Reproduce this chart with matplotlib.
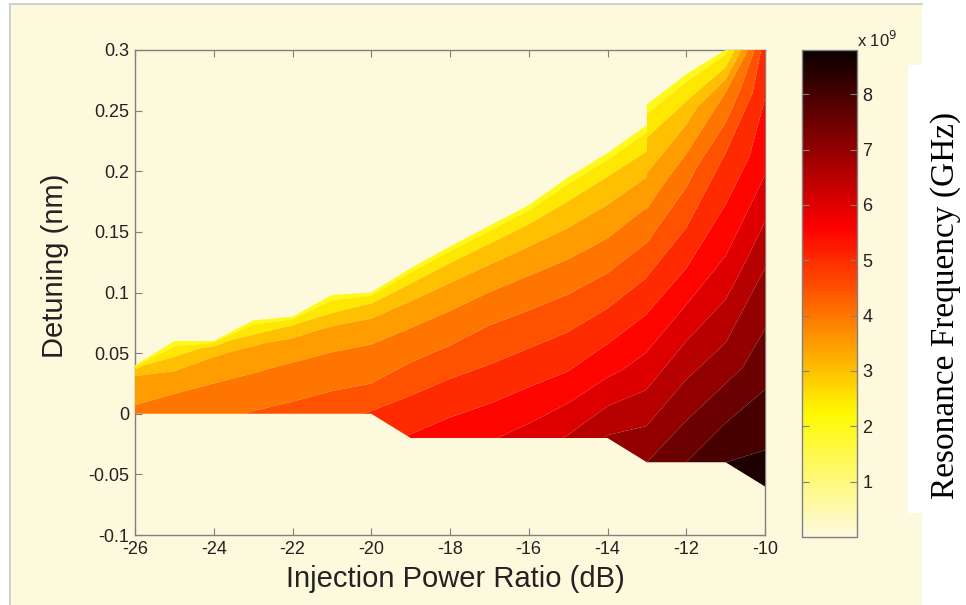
import numpy as np
import matplotlib
matplotlib.use("Agg")
import matplotlib.pyplot as plt
from matplotlib.colors import ListedColormap, Normalize
from matplotlib.patches import Rectangle
from matplotlib.lines import Line2D
import matplotlib.cm as cm

# ---------------- data ----------------
# injection power ratio columns (dB); -13 is listed twice because the upper locking edge steps there
injection_db = [-26, -25, -24, -23, -22, -21, -20, -19, -18, -17, -16, -15, -14, -13, -13, -12, -11, -10]
# lower and upper edge of the locking region (nm) for each column
detuning_low = [0, 0, 0, 0, 0, 0, 0, -0.02, -0.02, -0.02, -0.02, -0.02, -0.02, -0.04, -0.04, -0.04, -0.04, -0.06]
detuning_high = [0.04, 0.06, 0.06, 0.077, 0.08, 0.098, 0.10, 0.12, 0.138, 0.155, 0.172, 0.195, 0.215, 0.238, 0.255, 0.28, 0.30, 0.30]
# sample rows: fraction of the way from the lower edge to the upper edge
edge_fraction = [0.0, 0.25, 0.5, 0.75, 0.9, 1.0]
# resonance frequency (GHz) on each sample row
freq_f000 = [4.15, 4.25, 4.4, 4.53, 4.65, 4.85, 5.05, 5.55, 5.75, 5.95, 6.2, 6.55, 7.05, 7.5, 7.5, 8.0, 8.5, 8.8]
freq_f025 = [3.94, 4.03, 4.2, 4.27, 4.35, 4.39, 4.5, 5.0, 5.17, 5.25, 5.4, 5.52, 5.82, 6.34, 6.28, 6.83, 7.19, 7.9]
freq_f050 = [3.74, 3.71, 3.9, 3.9, 4.05, 4.04, 4.15, 4.36, 4.45, 4.6, 4.66, 4.69, 4.82, 5.23, 5.1, 5.5, 6.0, 7.0]
freq_f075 = [3.54, 3.1, 3.57, 3.45, 3.6, 3.46, 3.63, 3.75, 3.76, 3.8, 3.82, 3.76, 3.8, 4.03, 3.78, 4.3, 5.0, 5.83]
freq_f090 = [3.1, 2.6, 3.2, 2.75, 3.05, 2.74, 3.05, 3.07, 3.1, 3.12, 3.15, 3.06, 3.14, 3.2, 3.05, 3.3, 3.98, 5.47]
freq_f100 = [2.3, 2.2, 2.3, 2.3, 2.3, 2.3, 2.3, 2.3, 2.3, 2.3, 2.3, 2.3, 2.3, 2.3, 2.3, 2.3, 2.3, 5.3]

x_ticks = [-26, -24, -22, -20, -18, -16, -14, -12, -10]
y_ticks = [-0.1, -0.05, 0, 0.05, 0.1, 0.15, 0.2, 0.25, 0.3]
y_tick_labels = ["-0.1", "-0.05", "0", "0.05", "0.1", "0.15", "0.2", "0.25", "0.3"]
cbar_ticks_ghz = [1, 2, 3, 4, 5, 6, 7, 8]
level_step_ghz = 0.5

# ---------------- style ----------------
W, H = 966, 605
cream = "#fdf9dd"
axis_gray = "#808080"
text_col = "#222222"
sans = ["Liberation Sans", "DejaVu Sans"]

base = plt.get_cmap("hot_r")(np.linspace(0, 1, 256))
base[:, 0] *= 0.995
base[:, 1] *= 0.978
base[:, 2] *= 0.87
cmap = ListedColormap(base)

fig = plt.figure(figsize=(W / 100, H / 100), dpi=100, facecolor="white")

# cream page area with thin grey top/left border
fig.patches.append(Rectangle((10 / W, 0), (922 - 10) / W, (H - 4) / H, transform=fig.transFigure,
                             facecolor=cream, edgecolor="none", zorder=-10))
fig.lines.append(Line2D([10 / W, 922 / W], [1 - 4 / H, 1 - 4 / H], transform=fig.transFigure,
                        color="#c8c8c8", lw=1.2, zorder=-9))
fig.lines.append(Line2D([10 / W, 10 / W], [0, 1 - 4 / H], transform=fig.transFigure,
                        color="#c8c8c8", lw=1.2, zorder=-9))
# white box holding the colour-bar title
fig.patches.append(Rectangle((908 / W, 1 - 513 / H), (W - 908) / W, (513 - 65) / H,
                             transform=fig.transFigure, facecolor="white", edgecolor="none", zorder=-8))

ax = fig.add_axes([135 / W, 1 - 535 / H, (765 - 135) / W, (535 - 50) / H])
ax.set_facecolor(cream)

frac = np.array(edge_fraction)[:, None]
X = np.tile(np.array(injection_db, dtype=float), (len(edge_fraction), 1))
lo = np.array(detuning_low)[None, :]
hi = np.array(detuning_high)[None, :]
Y = lo + frac * (hi - lo)
Z = np.array([freq_f000, freq_f025, freq_f050, freq_f075, freq_f090, freq_f100]) * 1e9

zmax = Z.max()
levels = np.arange(0, zmax + level_step_ghz * 1e9, level_step_ghz * 1e9)
norm = Normalize(0, zmax)
band_colors = [cmap(norm(l)) for l in levels[:-1]]
ax.contourf(X, Y, Z, levels=levels, colors=band_colors, antialiased=True, zorder=1)

ax.set_xlim(-26, -10)
ax.set_ylim(-0.1, 0.3)
ax.set_xticks(x_ticks)
ax.set_xticklabels([str(t) for t in x_ticks])
ax.set_yticks(y_ticks)
ax.set_yticklabels(y_tick_labels)
ax.set_axisbelow(True)
for s in ax.spines.values():
    s.set_color(axis_gray)
    s.set_linewidth(1.0)
    s.set_zorder(0.5)
ax.tick_params(direction="in", length=5, width=0.8, color=axis_gray, top=True, right=True,
               labelsize=13, labelcolor=text_col, pad=4)
for lab in ax.get_xticklabels() + ax.get_yticklabels():
    lab.set_family(sans)

ax.set_xlabel("Injection Power Ratio (dB)", fontsize=21, family=sans, color=text_col)
ax.xaxis.set_label_coords(0.508, -0.062)
ax.set_ylabel("Detuning (nm)", fontsize=21, family=sans, color=text_col)
ax.yaxis.set_label_coords(-0.105, 0.555)

# colour bar
cax = fig.add_axes([802 / W, 1 - 537 / H, (857 - 802) / W, (537 - 50) / H])
sm = cm.ScalarMappable(norm=norm, cmap=cmap)
cb = fig.colorbar(sm, cax=cax)
cb.outline.set_edgecolor(axis_gray)
cb.outline.set_linewidth(1.0)
cb.set_ticks([t * 1e9 for t in cbar_ticks_ghz])
cb.set_ticklabels([str(t) for t in cbar_ticks_ghz])
cax.tick_params(direction="in", length=5, width=0.8, color=axis_gray, left=True, right=True,
                labelsize=13, labelcolor=text_col, pad=4)
for lab in cax.get_yticklabels():
    lab.set_family(sans)
fig.text(857 / W, 1 - 47 / H, "x 10$^9$", fontsize=12, family=sans, color=text_col,
         ha="left", va="baseline")

fig.text(946 / W, 1 - 305 / H, "Resonance Frequency (GHz)", rotation=90, fontsize=24,
         family=["Liberation Serif", "DejaVu Serif"], color="black", ha="center", va="center")

fig.savefig("out.png", dpi=100, facecolor=fig.get_facecolor())
